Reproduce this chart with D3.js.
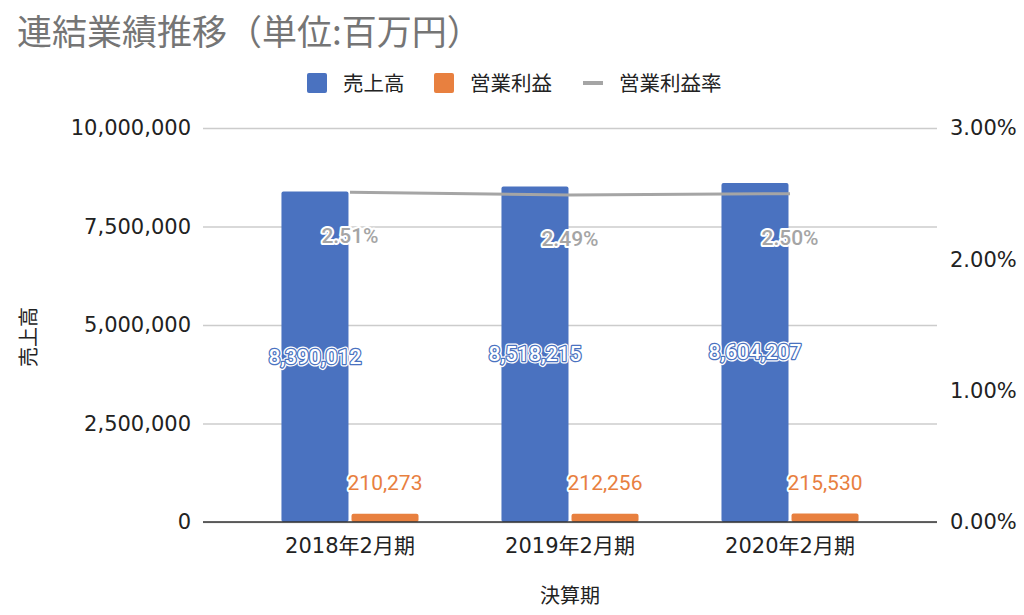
<!DOCTYPE html>
<html><head><meta charset="utf-8">
<script src="https://cdn.jsdelivr.net/npm/d3@7"></script>
<style>
body{margin:0;background:#fff;}
svg{display:block;}
</style></head>
<body>
<svg id="c" width="1024" height="615"></svg>
<script>
const categories = ["2018年2月期", "2019年2月期", "2020年2月期"];
const sales = [8390012, 8518215, 8604207];
const profit = [210273, 212256, 215530];
const rate = [0.0251, 0.0249, 0.0250];
const leftTicks = [0, 2500000, 5000000, 7500000, 10000000];
const rightTicks = [0, 0.01, 0.02, 0.03];
const seriesNames = ["売上高", "営業利益", "営業利益率"];
const colors = ["#4a72c0", "#e8803f", "#a5a5a5"];

const TICKFONT = "'DejaVu Sans','Noto Sans CJK JP',sans-serif";
const CJK = "'Noto Sans CJK JP',sans-serif";
const svg = d3.select("#c");

const L = 203, R = 937, T = 128, B = 522;
const x = d3.scaleBand().domain(categories).range([L, R]).paddingInner(0.377).paddingOuter(0.3566);
const x1 = d3.scaleBand().domain(["s", "p"]).range([0, x.bandwidth()]).paddingInner(0.043);
const y = d3.scaleLinear().domain([0, 10000000]).range([B, T]);
const y2 = d3.scaleLinear().domain([0, 0.03]).range([B, T]);

// title
svg.append("text").attr("x", 17).attr("y", 45).attr("font-family", CJK).attr("font-size", 35)
  .attr("fill", "#757575").text("連結業績推移（単位:百万円）");

// gridlines
const gl = d3.axisLeft(y).tickValues(leftTicks).tickSize(-(R - L)).tickFormat("");
svg.append("g").attr("transform", `translate(${L},0)`).call(gl)
  .call(g => g.select(".domain").remove())
  .call(g => g.selectAll("line").attr("stroke", "#cccccc").attr("stroke-width", 1.5));

// left axis labels
const la = d3.axisLeft(y).tickValues(leftTicks).tickSize(0).tickPadding(12).tickFormat(d3.format(","));
svg.append("g").attr("transform", `translate(${L},0)`).call(la)
  .call(g => g.select(".domain").remove())
  .call(g => g.selectAll("text").attr("font-family", TICKFONT).attr("font-size", 21).attr("fill", "#222"));

// right axis labels
const ra = d3.axisRight(y2).tickValues(rightTicks).tickSize(0).tickPadding(13).tickFormat(d3.format(".2%"));
svg.append("g").attr("transform", `translate(${R},0)`).call(ra)
  .call(g => g.select(".domain").remove())
  .call(g => g.selectAll("text").attr("font-family", TICKFONT).attr("font-size", 21).attr("fill", "#222"));

// bars
const grp = svg.append("g");
grp.selectAll("rect.s").data(sales).join("rect")
  .attr("x", (d, i) => x(categories[i]) + x1("s")).attr("width", x1.bandwidth())
  .attr("y", d => y(d)).attr("height", d => B - y(d)).attr("rx", 2).attr("fill", colors[0]);
grp.selectAll("rect.p").data(profit).join("rect")
  .attr("x", (d, i) => x(categories[i]) + x1("p")).attr("width", x1.bandwidth())
  .attr("y", d => y(d)).attr("height", d => B - y(d)).attr("rx", 2).attr("fill", colors[1]);

// zero line
svg.append("line").attr("x1", L).attr("x2", R).attr("y1", B).attr("y2", B).attr("stroke", "#333").attr("stroke-width", 1.5);

// line
const cx = i => x(categories[i]) + x.bandwidth() / 2;
svg.append("path").datum(rate)
  .attr("d", d3.line().x((d, i) => cx(i)).y(d => y2(d)))
  .attr("fill", "none").attr("stroke", colors[2]).attr("stroke-width", 3);

// category labels
const xa = d3.axisBottom(x).tickSize(0).tickPadding(16);
svg.append("g").attr("transform", `translate(0,${B})`).call(xa)
  .call(g => g.select(".domain").remove())
  .call(g => g.selectAll("text").attr("font-family", TICKFONT).attr("font-size", 21).attr("fill", "#222"));

// axis titles
svg.append("text").attr("x", 570).attr("y", 603).attr("text-anchor", "middle").attr("font-family", CJK)
  .attr("font-size", 20).attr("fill", "#222").text("決算期");
svg.append("text").attr("transform", "translate(36,337) rotate(-90)").attr("text-anchor", "middle")
  .attr("font-family", CJK).attr("font-size", 20).attr("fill", "#222").text("売上高");

// data labels
const RB = "Roboto,sans-serif";
const pctFmt = d3.format(".2%"), numFmt = d3.format(",");
svg.append("g").selectAll("text").data(rate).join("text")
  .attr("x", (d, i) => cx(i)).attr("y", d => y2(d) + 51).attr("text-anchor", "middle")
  .attr("font-family", RB).attr("font-size", 21).attr("font-weight", 500)
  .attr("fill", colors[2]).attr("stroke", "#fff").attr("stroke-width", 4).attr("paint-order", "stroke")
  .attr("stroke-linejoin", "round").text(d => pctFmt(d));
// sales labels: white halo, blue outline, white fill
const sl = svg.append("g");
sl.selectAll("text.h").data(sales).join("text")
  .attr("x", (d, i) => x(categories[i]) + x1("s") + x1.bandwidth() / 2)
  .attr("y", d => (y(d) + B) / 2 + 7).attr("text-anchor", "middle")
  .attr("font-family", RB).attr("font-size", 21).attr("font-weight", 500)
  .attr("fill", "#fff").attr("stroke", "#fff").attr("stroke-width", 5).attr("stroke-linejoin", "round")
  .text(d => numFmt(d));
sl.selectAll("text.f").data(sales).join("text")
  .attr("x", (d, i) => x(categories[i]) + x1("s") + x1.bandwidth() / 2)
  .attr("y", d => (y(d) + B) / 2 + 7).attr("text-anchor", "middle")
  .attr("font-family", RB).attr("font-size", 21).attr("font-weight", 500)
  .attr("fill", "#fff").attr("stroke", colors[0]).attr("stroke-width", 2.5).attr("paint-order", "stroke")
  .attr("stroke-linejoin", "round").text(d => numFmt(d));
svg.append("g").selectAll("text").data(profit).join("text")
  .attr("x", (d, i) => x(categories[i]) + x1("p") + x1.bandwidth() / 2)
  .attr("y", d => y(d) - 24).attr("text-anchor", "middle")
  .attr("font-family", RB).attr("font-size", 21)
  .attr("fill", colors[1]).attr("stroke", "#fff").attr("stroke-width", 4).attr("paint-order", "stroke")
  .attr("stroke-linejoin", "round").text(d => numFmt(d));

// legend
const lg = svg.append("g").attr("font-family", CJK).attr("font-size", 20.5).attr("fill", "#222");
const legX = [307, 434, 583];
seriesNames.forEach((n, i) => {
  if (i < 2) lg.append("rect").attr("x", legX[i]).attr("y", 73).attr("width", 20).attr("height", 20).attr("rx", 2).attr("fill", colors[i]);
  else lg.append("line").attr("x1", legX[i]).attr("x2", legX[i] + 20).attr("y1", 83).attr("y2", 83).attr("stroke", colors[i]).attr("stroke-width", 4);
  lg.append("text").attr("x", legX[i] + 36).attr("y", 91).text(n);
});
</script>
</body></html>
